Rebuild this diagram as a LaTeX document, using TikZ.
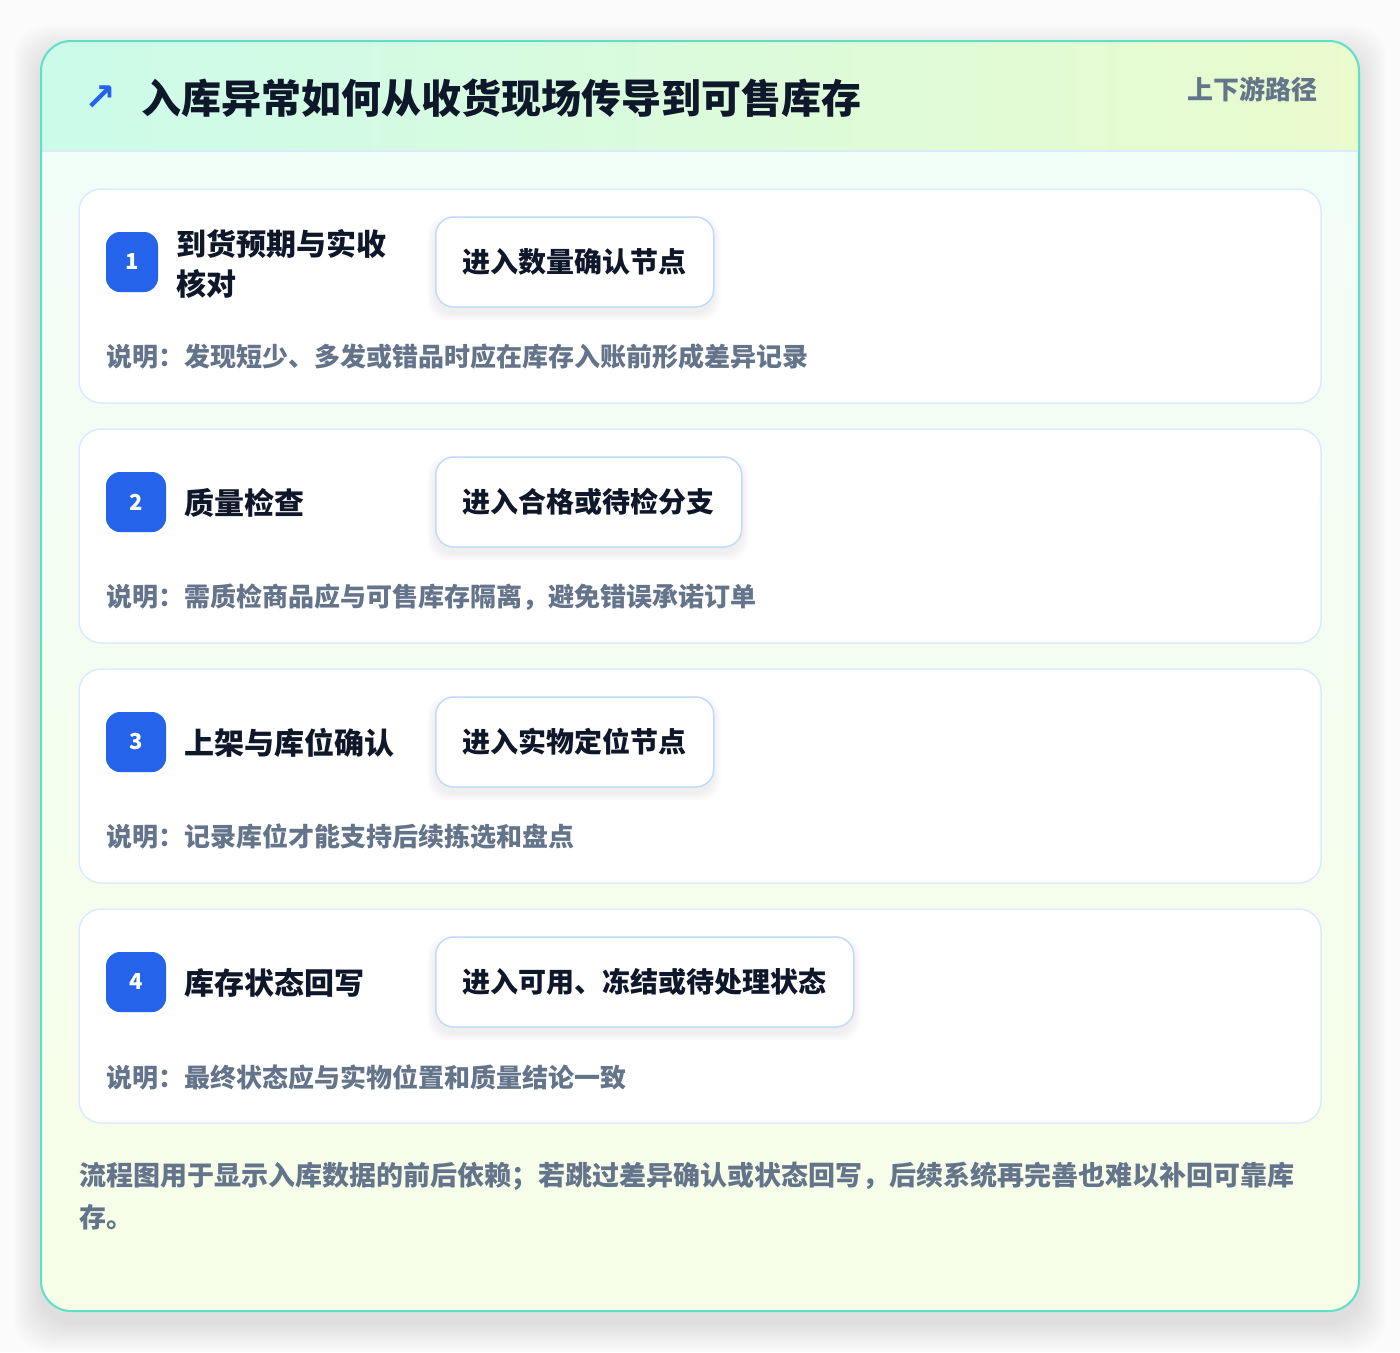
\documentclass[tikz,border=0pt]{standalone}
\usepackage{fontspec}
\setmainfont{Noto Sans CJK SC}
\newfontfamily\symfont{DejaVu Sans}

\definecolor{pagebg}{HTML}{FBFBFB}
\definecolor{rimteal}{HTML}{5EE0C8}
\definecolor{headleft}{HTML}{CCFBEA}
\definecolor{headright}{HTML}{EAFBCD}
\definecolor{bodytop}{HTML}{F0FDF9}
\definecolor{bodybottom}{HTML}{F7FEE7}
\definecolor{cardline}{HTML}{DBEAFE}
\definecolor{chipline}{HTML}{BFDBFE}
\definecolor{accent}{HTML}{2563EB}
\definecolor{ink}{HTML}{0F172A}
\definecolor{muted}{HTML}{64748B}

\begin{document}
\begin{tikzpicture}[x=1pt,y=-1pt,every node/.style={inner sep=0pt,font=\bfseries},
  card/.style={draw=cardline,line width=1.5pt,fill=white,rounded corners=22pt},
  softshade/.style={fill=black,opacity=0.009},
  badge/.style={fill=accent,text=white,rounded corners=14pt,minimum height=60pt,font=\bfseries\fontsize{22}{26}\selectfont},
  steptitle/.style={anchor=west,align=left,text=ink,font=\bfseries\fontsize{30}{40}\selectfont},
  chip/.style={anchor=west,draw=chipline,line width=1.5pt,fill=white,rounded corners=18pt,minimum height=90pt,inner xsep=27pt,text=ink,font=\bfseries\fontsize{28}{32}\selectfont},
  note/.style={anchor=west,text=muted,font=\bfseries\fontsize{26}{30}\selectfont}]
\useasboundingbox (0,0) rectangle (1400,1352);
\fill[pagebg] (0,0) rectangle (1400,1352);

% outer panel with soft shadow
\foreach \s in {2,4,...,28}
  \fill[softshade,rounded corners=34pt] ({41-\s},{53-\s}) rectangle ({1359+\s},{1323+\s});
\shade[top color=bodytop,bottom color=bodybottom,rounded corners=30pt] (41,41) rectangle (1359,1311);
\begin{scope}
  \clip[rounded corners=30pt] (41,41) rectangle (1359,1311);
  \shade[left color=headleft,right color=headright] (41,41) rectangle (1359,151);
\end{scope}
\draw[cardline,line width=1.5pt] (41,151) -- (1359,151);
\draw[rimteal,line width=2pt,rounded corners=30pt] (41,41) rectangle (1359,1311);

% header
\node[anchor=west,text=accent,font=\symfont\bfseries\fontsize{38}{40}\selectfont] (icon) at (84,98) {↗};
\node[anchor=west,text=ink,font=\bfseries\fontsize{40}{48}\selectfont] (heading) at (141,98) {入库异常如何从收货现场传导到可售库存};
\node[anchor=east,text=muted,font=\bfseries\fontsize{26}{30}\selectfont] (route) at (1318,89) {上下游路径};

% step cards
\foreach \top in {189,429,669,909}
  \draw[card] (79,\top) rectangle (1321,{\top+214});

% faint shadows under the chips
\foreach \mid/\right in {262/713,502/741,742/713,982/853}
  \foreach \s in {1,2,...,8}
    \fill[softshade,rounded corners=20pt] ({435-\s},{\mid-45-\s+6}) rectangle ({\right+\s},{\mid+45+\s+6});

\node[badge,minimum width=52pt] (badge1) at (132,262) {1};
\node[steptitle] (title1) at (176,264) {到货预期与实收\\核对};
\node[chip] (chip1) at (435,262) {进入数量确认节点};
\node[note] (note1) at (106,357) {说明：发现短少、多发或错品时应在库存入账前形成差异记录};

\node[badge,minimum width=60pt] (badge2) at (136,502) {2};
\node[steptitle] (title2) at (184,503) {质量检查};
\node[chip] (chip2) at (435,502) {进入合格或待检分支};
\node[note] (note2) at (106,597) {说明：需质检商品应与可售库存隔离，避免错误承诺订单};

\node[badge,minimum width=60pt] (badge3) at (136,742) {3};
\node[steptitle] (title3) at (184,743) {上架与库位确认};
\node[chip] (chip3) at (435,742) {进入实物定位节点};
\node[note] (note3) at (106,837) {说明：记录库位才能支持后续拣选和盘点};

\node[badge,minimum width=60pt] (badge4) at (136,982) {4};
\node[steptitle] (title4) at (184,983) {库存状态回写};
\node[chip] (chip4) at (435,982) {进入可用、冻结或待处理状态};
\node[note] (note4) at (106,1077) {说明：最终状态应与实物位置和质量结论一致};

% footer
\node[anchor=west,align=left,text=muted,font=\bfseries\fontsize{27}{42}\selectfont] (footnote) at (79,1196)
  {流程图用于显示入库数据的前后依赖；若跳过差异确认或状态回写，后续系统再完善也难以补回可靠库\\存。};
\end{tikzpicture}
\end{document}
